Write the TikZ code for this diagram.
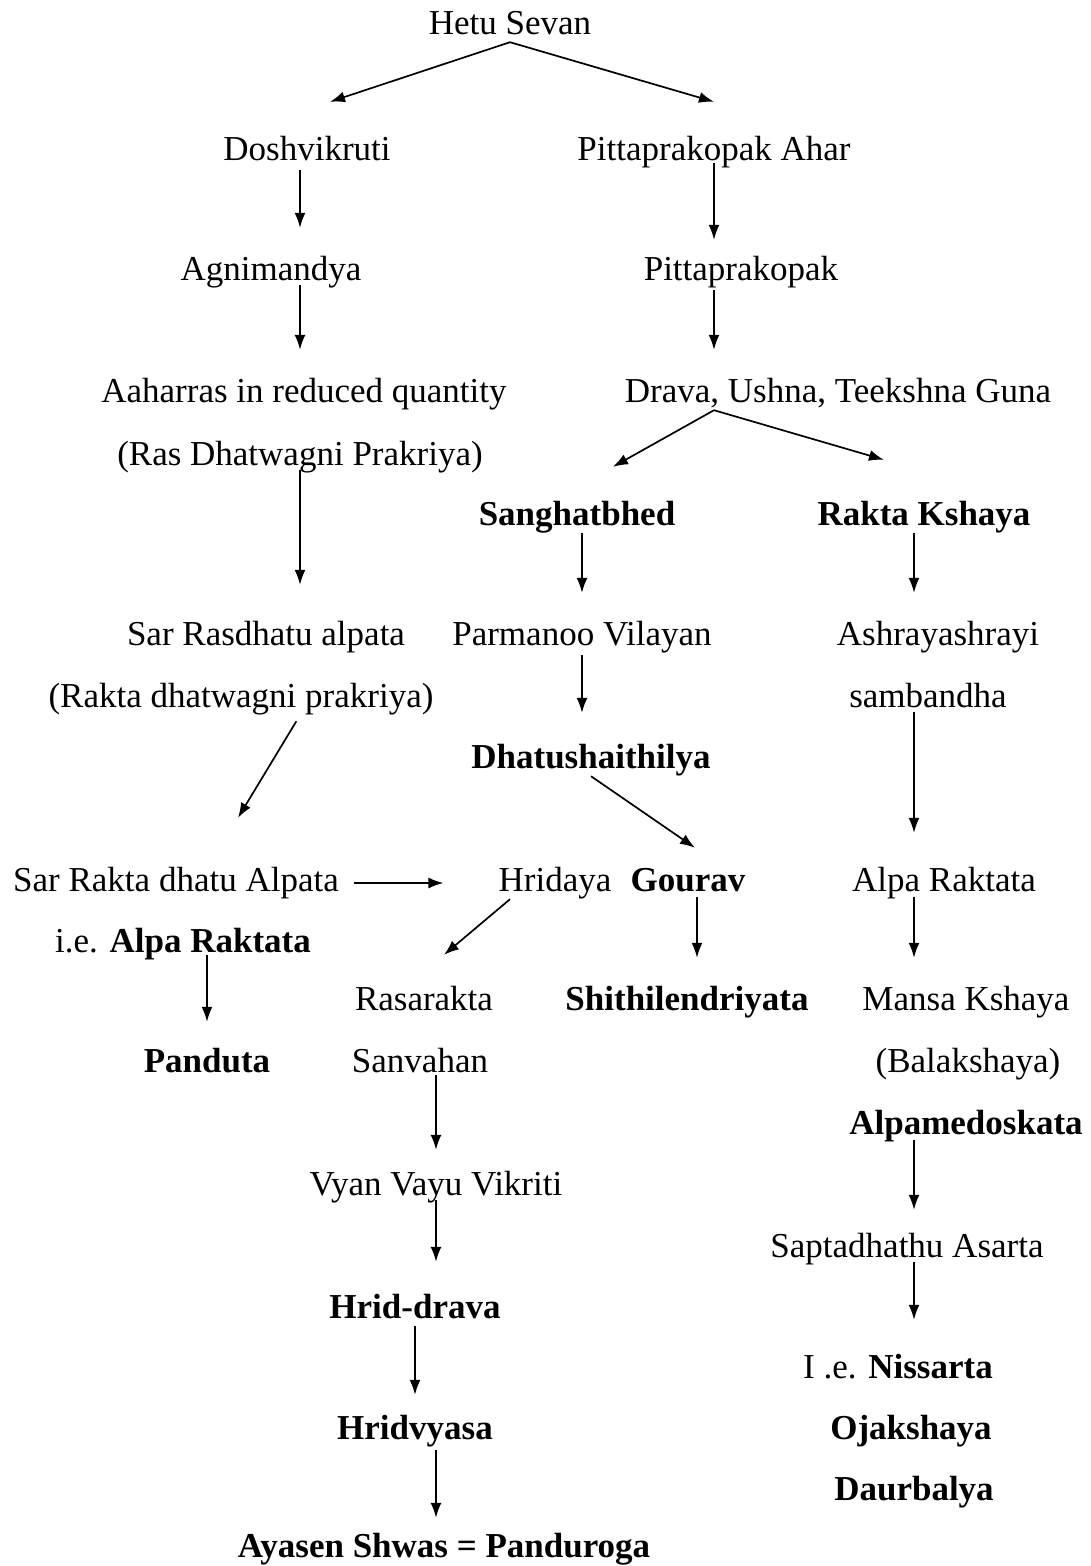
\documentclass[tikz,border=0pt]{standalone}
\usepackage{fontspec}
\setmainfont{Liberation Serif}
\usepackage{tikz}
\usetikzlibrary{arrows.meta}

\begin{document}
\begin{tikzpicture}[x=1pt, y=-1pt,
    every node/.style={font=\fontsize{35}{42}\selectfont, inner sep=0pt, text height=24pt, text depth=8pt, anchor=base},
    bx/.style={font=\fontsize{35}{42}\selectfont\bfseries},
    arr/.style={-{Latex[length=15pt,width=11pt]}, line width=1.7pt, shorten >=28pt}]
    \useasboundingbox (0,0) rectangle (1090,1566);

    % left branch
    \node (hetu) at (510,34) {Hetu Sevan};
    \node (dosh) at (307,160) {Doshvikruti};
    \node (agni) at (271,280) {Agnimandya};
    \node (aahar) at (304,402) {Aaharras in reduced quantity};
    \node (ras) at (300,465) {(Ras Dhatwagni Prakriya)};
    \node (sarras) at (266,645) {Sar Rasdhatu alpata};
    \node (rakdh) at (241,707) {(Rakta dhatwagni prakriya)};
    \node (sarrakta) at (176,891) {Sar Rakta dhatu Alpata};
    \node (ie) at (183,952) {i.e. \textbf{Alpa Raktata}};
    \node[bx] (panduta) at (207,1072) {Panduta};

    % middle branch
    \node (pahar) at (714,160) {Pittaprakopak Ahar};
    \node (pkop) at (741,280) {Pittaprakopak};
    \node (drava) at (838,402) {Drava, Ushna, Teekshna Guna};
    \node[bx] (sangh) at (577,525) {Sanghatbhed};
    \node (parm) at (582,645) {Parmanoo Vilayan};
    \node[bx] (dhatu) at (591,768) {Dhatushaithilya};
    \node (hrid) at (555,891) {Hridaya};
    \node[bx] (gourav) at (688,891) {Gourav};
    \node[bx] (shith) at (687,1010) {Shithilendriyata};
    \node (rasar) at (424,1010) {Rasarakta};
    \node (sanv) at (420,1072) {Sanvahan};
    \node (vyan) at (436,1195) {Vyan Vayu Vikriti};
    \node[bx] (hdrava) at (415,1318) {Hrid-drava};
    \node[bx] (hvyasa) at (415,1439) {Hridvyasa};
    \node[bx] (ayasen) at (444,1557) {Ayasen Shwas = Panduroga};

    % right branch
    \node[bx] (rkshaya) at (924,525) {Rakta Kshaya};
    \node (ashr) at (938,645) {Ashrayashrayi};
    \node (samb) at (928,707) {sambandha};
    \node (alpar) at (944,891) {Alpa Raktata};
    \node (mansa) at (966,1010) {Mansa Kshaya};
    \node (bala) at (968,1072) {(Balakshaya)};
    \node[bx] (alpamed) at (966,1134) {Alpamedoskata};
    \node (sapta) at (907,1257) {Saptadhathu Asarta};
    \node (nissarta) at (898,1378) {I .e. \textbf{Nissarta}};
    \node[bx] (oja) at (911,1439) {Ojakshaya};
    \node[bx] (daur) at (914,1500) {Daurbalya};

    % arrows
    \draw[arr, shorten >=0pt] (hetu.south) -- ([xshift=23pt,yshift=34pt]dosh.north);
    \draw[arr, shorten >=0pt] (hetu.south) -- ([yshift=34pt]pahar.north);
    \draw[arr, shorten <=2pt] (dosh.south -| ras) -- (agni.north -| ras);
    \draw[arr, shorten <=-3pt] (agni.south -| ras) -- (aahar.north -| ras);
    \draw[arr, shorten <=-5pt, shorten >=16pt] (pahar.south) -- (pahar.south |- pkop.north);
    \draw[arr, shorten <=2pt] (pkop.south -| pahar) -- (drava.north -| pahar);
    \draw[arr, shorten >=0pt] (drava.south -| pahar) -- ([xshift=36pt,yshift=34pt]sangh.north);
    \draw[arr, shorten >=0pt] (drava.south -| pahar) -- ([xshift=-40pt,yshift=41pt]rkshaya.north);
    \draw[arr, shorten <=-3pt, shorten >=36pt] (ras.south) -- (ras.south |- sarras.north);
    \draw[arr] (sangh.south -| parm) -- (parm.north);
    \draw[arr] (rkshaya.south -| daur) -- (ashr.north -| daur);
    \draw[arr, shorten <=2pt, shorten >=31pt] (parm.south) -- (parm.south |- dhatu.north);
    \draw[arr, shorten <=-3pt, shorten >=34pt] (samb.south -| daur) -- (alpar.north -| daur);
    \draw[arr, shorten <=7pt, shorten >=0pt] (rakdh.south -| ras) -- ([xshift=62pt,yshift=49pt]sarrakta.north);
    \draw[arr, shorten >=0pt] (dhatu.south) -- ([xshift=7pt,yshift=19pt]gourav.north);
    \draw[arr, shorten <=15pt, shorten >=55pt] (sarrakta.east) -- (hrid.west);
    \draw[arr, shorten >=0pt] ([xshift=-45pt]hrid.south) -- ([xshift=20pt,yshift=31pt]rasar.north);
    \draw[arr, shorten <=-2pt] ([xshift=9pt]gourav.south) -- ([xshift=9pt]gourav.south |- shith.north);
    \draw[arr, shorten <=-2pt] (alpar.south -| daur) -- (mansa.north -| daur);
    \draw[arr, shorten <=-5pt, shorten >=26pt] (ie.south -| panduta) -- (panduta.north);
    \draw[arr, shorten <=-5pt, shorten >=21pt] (sanv.south -| vyan) -- (vyan.north);
    \draw[arr, shorten <=-3pt, shorten >=32pt] (vyan.south) -- (vyan.south |- hdrava.north);
    \draw[arr, shorten <=-2pt, shorten >=23pt] (alpamed.south -| daur) -- (sapta.north -| daur);
    \draw[arr, shorten <=-3pt, shorten >=34pt] (sapta.south -| daur) -- (nissarta.north -| daur);
    \draw[arr, shorten >=20pt] (hdrava.south) -- (hdrava.south |- hvyasa.north);
    \draw[arr, shorten <=3pt, shorten >=15pt] (hvyasa.south -| vyan) -- (ayasen.north -| vyan);
\end{tikzpicture}
\end{document}
